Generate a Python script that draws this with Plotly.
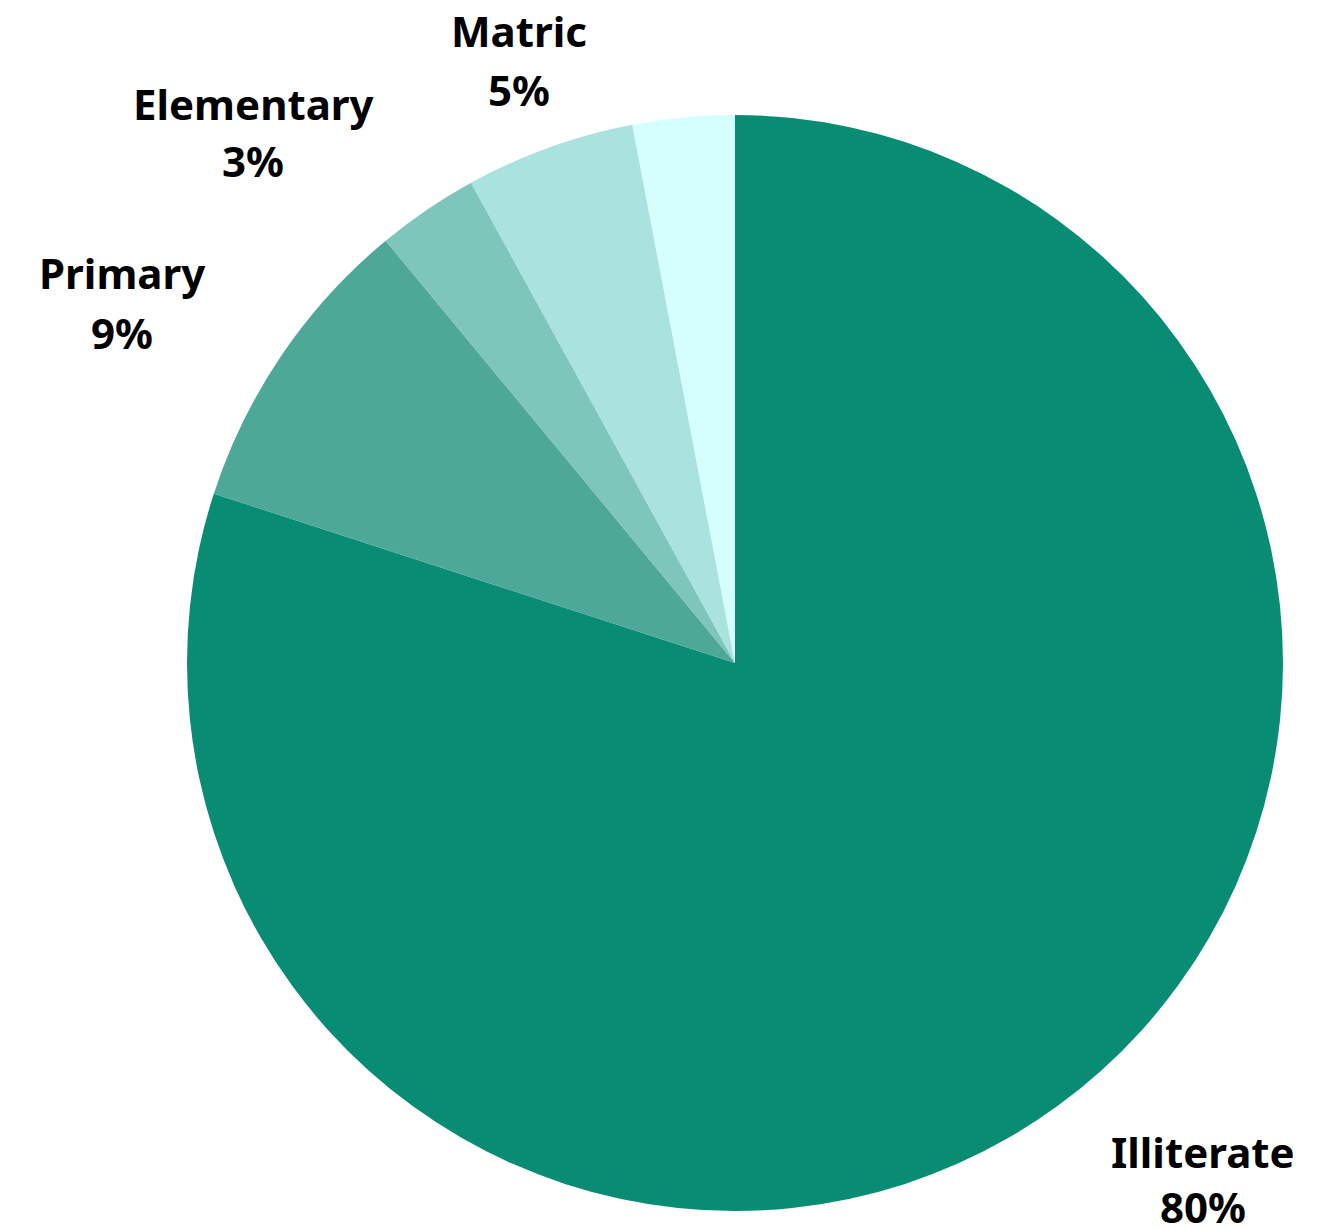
import plotly.graph_objects as go

# Education level shares (percent)
categories = ["Illiterate", "Primary", "Elementary", "Matric", "Other"]
values = [80, 9, 3, 5, 3]
colors = ["#088C74", "#4DA898", "#7EC6BB", "#A9E2DE", "#D4FFFD"]

# Outside labels: x centre, y of the name line and y of the value line (pixels from top)
label_positions = {
    "Illiterate": (1203, 1151, 1206),
    "Primary": (122, 273, 332),
    "Elementary": (253, 103, 161),
    "Matric": (519, 31, 89),
}

W, H = 1318, 1230
cx, cy, r = 735, 663, 548

fig = go.Figure(
    go.Pie(
        labels=categories,
        values=values,
        sort=False,
        direction="clockwise",
        rotation=0,
        marker=dict(colors=colors, line=dict(width=0)),
        textinfo="none",
        hoverinfo="label+percent",
        showlegend=False,
        domain=dict(
            x=[(cx - r) / W, (cx + r) / W],
            y=[1 - (cy + r) / H, 1 - (cy - r) / H],
        ),
    )
)

label_font = dict(family="Noto Sans, Open Sans, sans-serif", size=42, color="#000000")
annotations = []
for name, val in zip(categories, values):
    if name not in label_positions:
        continue
    px, py_name, py_val = label_positions[name]
    for text, py in ((f"<b>{name}</b>", py_name), (f"<b>{val}%</b>", py_val)):
        annotations.append(
            dict(
                x=px / W, y=1 - py / H, xref="paper", yref="paper",
                xanchor="center", yanchor="middle",
                text=text, showarrow=False, align="center",
                font=label_font,
            )
        )

fig.update_layout(
    width=W, height=H,
    margin=dict(l=0, r=0, t=0, b=0),
    paper_bgcolor="white",
    plot_bgcolor="white",
    annotations=annotations,
)

fig.write_html("out.html")
